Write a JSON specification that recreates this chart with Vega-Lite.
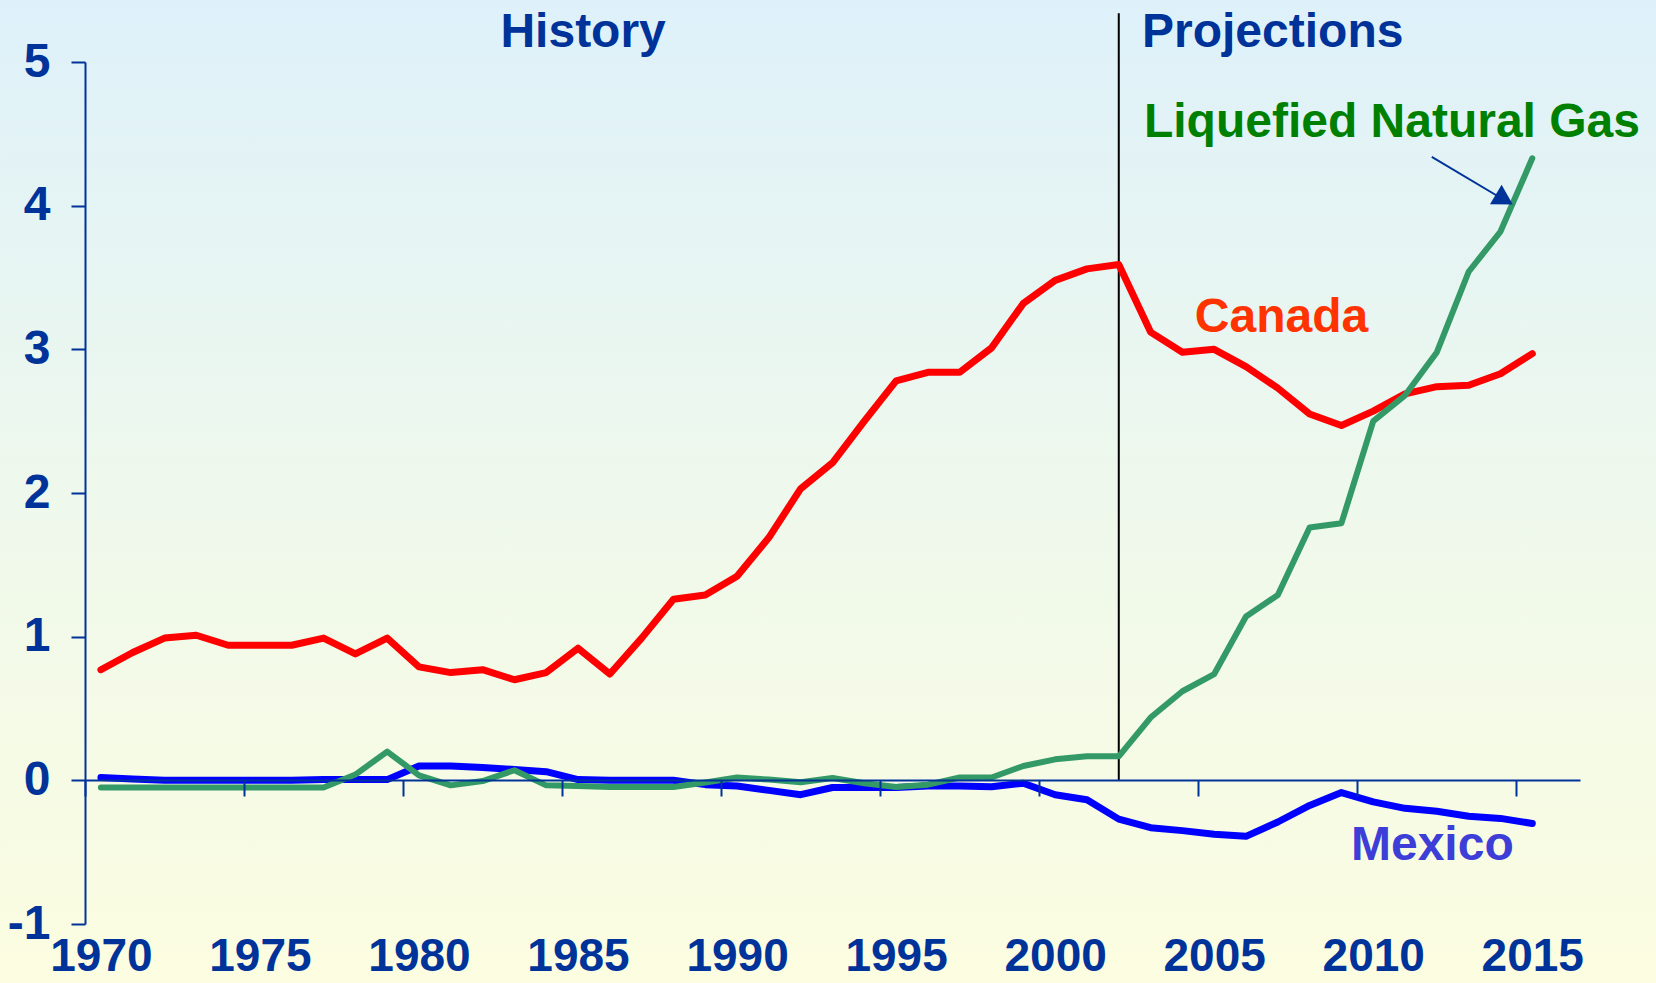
{
  "$schema": "https://vega.github.io/schema/vega-lite/v6.json",
  "width": 1495,
  "height": 862,
  "autosize": {"type": "none"},
  "padding": {"left": 85, "top": 62, "right": 76, "bottom": 59},
  "background": "#F2F8EE",
  "config": {"view": {"stroke": null}},
  "layer": [
    {
      "data": {"values": [{}]},
      "mark": {
        "type": "rect",
        "fill": {
          "gradient": "linear",
          "x1": 0, "y1": 0, "x2": 0, "y2": 1,
          "stops": [
            {"offset": 0, "color": "#DEF1FA"},
            {"offset": 0.5, "color": "#EEF8EC"},
            {"offset": 1, "color": "#FCFDE0"}
          ]
        }
      },
      "encoding": {
        "x": {"datum": 1966.83, "type": "quantitative", "scale": {"domain": [1969.5, 2016.5], "nice": false, "zero": false}},
        "x2": {"datum": 2018.89},
        "y": {"datum": 5.432, "type": "quantitative", "scale": {"domain": [-1, 5], "nice": false, "zero": false}},
        "y2": {"datum": -1.414}
      }
    },
    {
      "data": {"values": [{}]},
      "mark": {"type": "rule", "color": "#000000", "strokeWidth": 2},
      "encoding": {
        "x": {"datum": 2002, "type": "quantitative"},
        "y": {"datum": 5.34, "type": "quantitative"},
        "y2": {"datum": 0}
      }
    },
    {
      "data": {
        "values": [
          {"year": 1970, "series": "Canada", "value": 0.77},
          {"year": 1971, "series": "Canada", "value": 0.89},
          {"year": 1972, "series": "Canada", "value": 0.99},
          {"year": 1973, "series": "Canada", "value": 1.01},
          {"year": 1974, "series": "Canada", "value": 0.94},
          {"year": 1975, "series": "Canada", "value": 0.94},
          {"year": 1976, "series": "Canada", "value": 0.94},
          {"year": 1977, "series": "Canada", "value": 0.99},
          {"year": 1978, "series": "Canada", "value": 0.88},
          {"year": 1979, "series": "Canada", "value": 0.99},
          {"year": 1980, "series": "Canada", "value": 0.79},
          {"year": 1981, "series": "Canada", "value": 0.75},
          {"year": 1982, "series": "Canada", "value": 0.77},
          {"year": 1983, "series": "Canada", "value": 0.70},
          {"year": 1984, "series": "Canada", "value": 0.75},
          {"year": 1985, "series": "Canada", "value": 0.92},
          {"year": 1986, "series": "Canada", "value": 0.74},
          {"year": 1987, "series": "Canada", "value": 0.99},
          {"year": 1988, "series": "Canada", "value": 1.26},
          {"year": 1989, "series": "Canada", "value": 1.29},
          {"year": 1990, "series": "Canada", "value": 1.42},
          {"year": 1991, "series": "Canada", "value": 1.69},
          {"year": 1992, "series": "Canada", "value": 2.03},
          {"year": 1993, "series": "Canada", "value": 2.21},
          {"year": 1994, "series": "Canada", "value": 2.50},
          {"year": 1995, "series": "Canada", "value": 2.78},
          {"year": 1996, "series": "Canada", "value": 2.84},
          {"year": 1997, "series": "Canada", "value": 2.84},
          {"year": 1998, "series": "Canada", "value": 3.01},
          {"year": 1999, "series": "Canada", "value": 3.32},
          {"year": 2000, "series": "Canada", "value": 3.48},
          {"year": 2001, "series": "Canada", "value": 3.56},
          {"year": 2002, "series": "Canada", "value": 3.59},
          {"year": 2003, "series": "Canada", "value": 3.12},
          {"year": 2004, "series": "Canada", "value": 2.98},
          {"year": 2005, "series": "Canada", "value": 3.00},
          {"year": 2006, "series": "Canada", "value": 2.88},
          {"year": 2007, "series": "Canada", "value": 2.73},
          {"year": 2008, "series": "Canada", "value": 2.55},
          {"year": 2009, "series": "Canada", "value": 2.47},
          {"year": 2010, "series": "Canada", "value": 2.57},
          {"year": 2011, "series": "Canada", "value": 2.69},
          {"year": 2012, "series": "Canada", "value": 2.74},
          {"year": 2013, "series": "Canada", "value": 2.75},
          {"year": 2014, "series": "Canada", "value": 2.83},
          {"year": 2015, "series": "Canada", "value": 2.97},
          {"year": 1970, "series": "Mexico", "value": 0.02},
          {"year": 1971, "series": "Mexico", "value": 0.01},
          {"year": 1972, "series": "Mexico", "value": 0.0},
          {"year": 1973, "series": "Mexico", "value": 0.0},
          {"year": 1974, "series": "Mexico", "value": 0.0},
          {"year": 1975, "series": "Mexico", "value": 0.0},
          {"year": 1976, "series": "Mexico", "value": 0.0},
          {"year": 1977, "series": "Mexico", "value": 0.005},
          {"year": 1978, "series": "Mexico", "value": 0.005},
          {"year": 1979, "series": "Mexico", "value": 0.005},
          {"year": 1980, "series": "Mexico", "value": 0.10},
          {"year": 1981, "series": "Mexico", "value": 0.10},
          {"year": 1982, "series": "Mexico", "value": 0.09},
          {"year": 1983, "series": "Mexico", "value": 0.075},
          {"year": 1984, "series": "Mexico", "value": 0.06},
          {"year": 1985, "series": "Mexico", "value": 0.005},
          {"year": 1986, "series": "Mexico", "value": 0.0},
          {"year": 1987, "series": "Mexico", "value": 0.0},
          {"year": 1988, "series": "Mexico", "value": 0.0},
          {"year": 1989, "series": "Mexico", "value": -0.03},
          {"year": 1990, "series": "Mexico", "value": -0.04},
          {"year": 1991, "series": "Mexico", "value": -0.07},
          {"year": 1992, "series": "Mexico", "value": -0.10},
          {"year": 1993, "series": "Mexico", "value": -0.05},
          {"year": 1994, "series": "Mexico", "value": -0.05},
          {"year": 1995, "series": "Mexico", "value": -0.05},
          {"year": 1996, "series": "Mexico", "value": -0.04},
          {"year": 1997, "series": "Mexico", "value": -0.04},
          {"year": 1998, "series": "Mexico", "value": -0.045},
          {"year": 1999, "series": "Mexico", "value": -0.02},
          {"year": 2000, "series": "Mexico", "value": -0.10},
          {"year": 2001, "series": "Mexico", "value": -0.135},
          {"year": 2002, "series": "Mexico", "value": -0.27},
          {"year": 2003, "series": "Mexico", "value": -0.33},
          {"year": 2004, "series": "Mexico", "value": -0.35},
          {"year": 2005, "series": "Mexico", "value": -0.375},
          {"year": 2006, "series": "Mexico", "value": -0.39},
          {"year": 2007, "series": "Mexico", "value": -0.29},
          {"year": 2008, "series": "Mexico", "value": -0.175},
          {"year": 2009, "series": "Mexico", "value": -0.085},
          {"year": 2010, "series": "Mexico", "value": -0.15},
          {"year": 2011, "series": "Mexico", "value": -0.195},
          {"year": 2012, "series": "Mexico", "value": -0.215},
          {"year": 2013, "series": "Mexico", "value": -0.25},
          {"year": 2014, "series": "Mexico", "value": -0.265},
          {"year": 2015, "series": "Mexico", "value": -0.30},
          {"year": 1970, "series": "LNG", "value": -0.05},
          {"year": 1971, "series": "LNG", "value": -0.05},
          {"year": 1972, "series": "LNG", "value": -0.05},
          {"year": 1973, "series": "LNG", "value": -0.05},
          {"year": 1974, "series": "LNG", "value": -0.05},
          {"year": 1975, "series": "LNG", "value": -0.05},
          {"year": 1976, "series": "LNG", "value": -0.05},
          {"year": 1977, "series": "LNG", "value": -0.05},
          {"year": 1978, "series": "LNG", "value": 0.04},
          {"year": 1979, "series": "LNG", "value": 0.20},
          {"year": 1980, "series": "LNG", "value": 0.035},
          {"year": 1981, "series": "LNG", "value": -0.035},
          {"year": 1982, "series": "LNG", "value": -0.005},
          {"year": 1983, "series": "LNG", "value": 0.07},
          {"year": 1984, "series": "LNG", "value": -0.035},
          {"year": 1985, "series": "LNG", "value": -0.04},
          {"year": 1986, "series": "LNG", "value": -0.047},
          {"year": 1987, "series": "LNG", "value": -0.047},
          {"year": 1988, "series": "LNG", "value": -0.047},
          {"year": 1989, "series": "LNG", "value": -0.015},
          {"year": 1990, "series": "LNG", "value": 0.02},
          {"year": 1991, "series": "LNG", "value": 0.005},
          {"year": 1992, "series": "LNG", "value": -0.014},
          {"year": 1993, "series": "LNG", "value": 0.016},
          {"year": 1994, "series": "LNG", "value": -0.02},
          {"year": 1995, "series": "LNG", "value": -0.047},
          {"year": 1996, "series": "LNG", "value": -0.03},
          {"year": 1997, "series": "LNG", "value": 0.02},
          {"year": 1998, "series": "LNG", "value": 0.02},
          {"year": 1999, "series": "LNG", "value": 0.10},
          {"year": 2000, "series": "LNG", "value": 0.146},
          {"year": 2001, "series": "LNG", "value": 0.167},
          {"year": 2002, "series": "LNG", "value": 0.167},
          {"year": 2003, "series": "LNG", "value": 0.437},
          {"year": 2004, "series": "LNG", "value": 0.62},
          {"year": 2005, "series": "LNG", "value": 0.74},
          {"year": 2006, "series": "LNG", "value": 1.14},
          {"year": 2007, "series": "LNG", "value": 1.29},
          {"year": 2008, "series": "LNG", "value": 1.76},
          {"year": 2009, "series": "LNG", "value": 1.79},
          {"year": 2010, "series": "LNG", "value": 2.50},
          {"year": 2011, "series": "LNG", "value": 2.68},
          {"year": 2012, "series": "LNG", "value": 2.98},
          {"year": 2013, "series": "LNG", "value": 3.54},
          {"year": 2014, "series": "LNG", "value": 3.82},
          {"year": 2015, "series": "LNG", "value": 4.33}
        ]
      },
      "encoding": {
        "x": {
          "field": "year",
          "type": "quantitative",
          "scale": {"domain": [1969.5, 2016.5], "nice": false, "zero": false},
          "axis": {
            "title": null,
            "orient": "bottom",
            "offset": -144,
            "zindex": 1,
            "values": [1970, 1975, 1980, 1985, 1990, 1995, 2000, 2005, 2010, 2015],
            "format": "d",
            "tickOffset": -15.9,
            "labelOffset": 15.9,
            "tickSize": 16,
            "tickWidth": 2,
            "tickColor": "#003399",
            "domainColor": "#003399",
            "domainWidth": 2,
            "grid": false,
            "labelPadding": 174,
            "labelBaseline": "alphabetic",
            "labelFont": "Liberation Sans Narrow, Liberation Sans, sans-serif",
            "labelFontWeight": "bold",
            "labelFontSize": 46,
            "labelColor": "#003399",
            "labelOverlap": false,
            "labelFlush": false
          }
        },
        "y": {
          "field": "value",
          "type": "quantitative",
          "scale": {"domain": [-1, 5], "nice": false, "zero": false},
          "axis": {
            "title": null,
            "zindex": 1,
            "values": [-1, 0, 1, 2, 3, 4, 5],
            "labelExpr": "datum.value < 0 ? '-' + abs(datum.value) : '' + datum.value",
            "tickSize": 14,
            "tickWidth": 2,
            "tickColor": "#003399",
            "domainColor": "#003399",
            "domainWidth": 2,
            "grid": false,
            "labelPadding": 21,
            "labelFont": "Liberation Sans Narrow, Liberation Sans, sans-serif",
            "labelFontWeight": "bold",
            "labelFontSize": 48,
            "labelColor": "#003399",
            "labelOverlap": false,
            "labelFlush": false
          }
        }
      },
      "layer": [
        {
          "transform": [{"filter": {"field": "series", "equal": "Mexico"}}],
          "mark": {"type": "line", "color": "#0000FF", "strokeWidth": 7, "strokeCap": "round", "strokeJoin": "round"}
        },
        {
          "transform": [{"filter": {"field": "series", "equal": "Canada"}}],
          "mark": {"type": "line", "color": "#FF0000", "strokeWidth": 7, "strokeCap": "round", "strokeJoin": "round"}
        },
        {
          "transform": [{"filter": {"field": "series", "equal": "LNG"}}],
          "mark": {"type": "line", "color": "#339966", "strokeWidth": 6, "strokeCap": "round", "strokeJoin": "round"}
        }
      ]
    },
    {
      "data": {"values": [{}]},
      "mark": {"type": "text", "text": "History", "font": "Liberation Sans, Arial, sans-serif", "fontWeight": "bold", "fontSize": 48, "color": "#003399", "align": "center", "baseline": "alphabetic"},
      "encoding": {"x": {"datum": 1985.16, "type": "quantitative"}, "y": {"datum": 5.104, "type": "quantitative"}}
    },
    {
      "data": {"values": [{}]},
      "mark": {"type": "text", "text": "Projections", "font": "Liberation Sans, Arial, sans-serif", "fontWeight": "bold", "fontSize": 48, "color": "#003399", "align": "left", "baseline": "alphabetic"},
      "encoding": {"x": {"datum": 2002.73, "type": "quantitative"}, "y": {"datum": 5.104, "type": "quantitative"}}
    },
    {
      "data": {"values": [{}]},
      "mark": {"type": "text", "text": "Liquefied Natural Gas", "font": "Liberation Sans, Arial, sans-serif", "fontWeight": "bold", "fontSize": 48, "color": "#008000", "align": "left", "baseline": "alphabetic"},
      "encoding": {"x": {"datum": 2002.79, "type": "quantitative"}, "y": {"datum": 4.478, "type": "quantitative"}}
    },
    {
      "data": {"values": [{}]},
      "mark": {"type": "text", "text": "Canada", "font": "Liberation Sans, Arial, sans-serif", "fontWeight": "bold", "fontSize": 48, "color": "#FF3300", "align": "left", "baseline": "alphabetic"},
      "encoding": {"x": {"datum": 2004.39, "type": "quantitative"}, "y": {"datum": 3.12, "type": "quantitative"}}
    },
    {
      "data": {"values": [{}]},
      "mark": {"type": "text", "text": "Mexico", "font": "Liberation Sans, Arial, sans-serif", "fontWeight": "bold", "fontSize": 48, "color": "#3D3DD8", "align": "left", "baseline": "alphabetic"},
      "encoding": {"x": {"datum": 2009.3, "type": "quantitative"}, "y": {"datum": -0.557, "type": "quantitative"}}
    },
    {
      "data": {"values": [{}]},
      "mark": {"type": "rule", "color": "#003399", "strokeWidth": 2},
      "encoding": {
        "x": {"datum": 2011.84, "type": "quantitative"},
        "y": {"datum": 4.34, "type": "quantitative"},
        "x2": {"datum": 2014.0},
        "y2": {"datum": 4.055}
      }
    },
    {
      "data": {"values": [{}]},
      "mark": {"type": "point", "shape": "triangle-right", "filled": true, "color": "#003399", "opacity": 1, "size": 520, "angle": 30.6},
      "encoding": {"x": {"datum": 2014.12, "type": "quantitative"}, "y": {"datum": 4.043, "type": "quantitative"}}
    }
  ]
}
